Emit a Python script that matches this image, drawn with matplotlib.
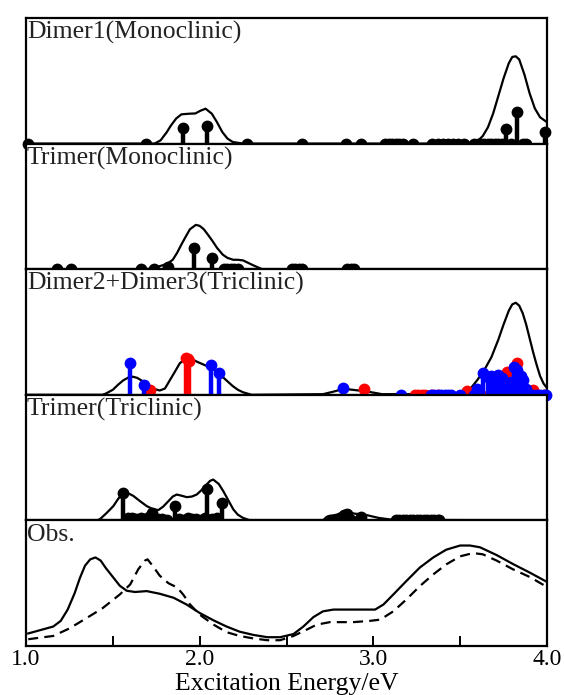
import matplotlib
matplotlib.use("Agg")
import matplotlib.pyplot as plt

plt.rcParams['font.family'] = ['Liberation Serif', 'DejaVu Serif']

# ---------------- data ----------------
titles = ["Dimer1(Monoclinic)", "Trimer(Monoclinic)", "Dimer2+Dimer3(Triclinic)",
          "Trimer(Triclinic)", "Obs."]

# Panel 1: Dimer1 (Monoclinic)
d1_curve_x = [1.00, 1.74, 1.775, 1.81, 1.835, 1.865, 1.895, 1.94, 1.975, 2.005, 2.034,
              2.07, 2.10, 2.13, 2.16, 2.19, 2.25,
              3.56, 3.60, 3.63, 3.66, 3.69, 3.72, 3.75, 3.78, 3.80, 3.82, 3.84,
              3.87, 3.90, 3.93, 3.96, 3.98, 4.00]
d1_curve_y = [0.0, 0.0, 0.026, 0.09, 0.145, 0.20, 0.233, 0.238, 0.240, 0.262, 0.278,
              0.238, 0.17, 0.093, 0.04, 0.013, 0.0,
              0.0, 0.02, 0.06, 0.13, 0.24, 0.38, 0.52, 0.64, 0.69, 0.695, 0.67,
              0.55, 0.40, 0.28, 0.21, 0.19, 0.17]
d1_stem_x = [1.01, 1.69, 1.905, 2.04, 2.27, 2.59, 2.84, 2.93, 3.07, 3.09, 3.11, 3.13,
             3.15, 3.17, 3.23, 3.34, 3.37, 3.40, 3.43, 3.46, 3.49, 3.52, 3.58, 3.60,
             3.62, 3.64, 3.66, 3.68, 3.70, 3.72, 3.74, 3.763, 3.79, 3.83, 3.86,
             3.88, 3.99]
d1_stem_y = [0, 0, 0.124, 0.138, 0, 0, 0, 0, 0, 0, 0, 0,
             0, 0, 0, 0, 0, 0, 0, 0, 0, 0, 0, 0,
             0, 0, 0, 0, 0, 0, 0, 0.12, 0, 0.25, 0,
             0, 0.09]

# Panel 2: Trimer (Monoclinic)
t1_curve_x = [1.00, 1.70, 1.716, 1.76, 1.795, 1.82, 1.845, 1.87, 1.895, 1.92, 1.944,
              1.978, 2.00, 2.024, 2.05, 2.074, 2.10, 2.133, 2.16, 2.193, 2.22, 2.25,
              2.28, 2.31, 2.36, 4.00]
t1_curve_y = [0.0, 0.0, 0.008, 0.02, 0.035, 0.05, 0.075, 0.13, 0.197, 0.26, 0.318,
              0.353, 0.345, 0.318, 0.27, 0.224, 0.17, 0.116, 0.09, 0.075, 0.075, 0.07,
              0.05, 0.03, 0.0, 0.0]
t1_stem_x = [1.18, 1.26, 1.66, 1.735, 1.815, 1.965, 2.07, 2.14, 2.16, 2.18, 2.20,
             2.22, 2.53, 2.55, 2.57, 2.59, 2.85, 2.87, 2.89]
t1_stem_y = [0, 0, 0, 0, 0.02, 0.17, 0.09, 0, 0, 0, 0,
             0, 0, 0, 0, 0, 0, 0, 0]

# Panel 3: Dimer2 + Dimer3 (Triclinic)
d23_curve_x = [1.00, 1.44, 1.46, 1.50, 1.53, 1.56, 1.59, 1.615, 1.64, 1.67, 1.70,
               1.73, 1.77, 1.80, 1.83, 1.86, 1.885, 1.915, 1.945, 1.99, 2.03, 2.07,
               2.11, 2.15, 2.19, 2.22, 2.25, 2.30, 2.71, 2.77, 2.83, 2.91, 2.97,
               3.05, 3.48, 3.52, 3.56, 3.60, 3.64, 3.68, 3.72, 3.75, 3.78, 3.80,
               3.82, 3.84, 3.86, 3.88, 3.90, 3.92, 3.94, 3.96, 3.98, 4.00]
d23_curve_y = [0.0, 0.0, 0.01, 0.04, 0.08, 0.115, 0.138, 0.144, 0.135, 0.11, 0.08,
               0.05, 0.034, 0.05, 0.12, 0.19, 0.25, 0.285, 0.29, 0.26, 0.236, 0.21,
               0.17, 0.12, 0.07, 0.04, 0.02, 0.0, 0.005, 0.025, 0.048, 0.035, 0.025,
               0.005, 0.005, 0.02, 0.05, 0.12, 0.20, 0.30, 0.44, 0.56, 0.67, 0.72,
               0.733, 0.71, 0.65, 0.56, 0.45, 0.34, 0.24, 0.15, 0.09, 0.053]
d2_stem_x = [1.599, 1.681, 2.063, 2.113, 2.825, 3.157, 3.33, 3.35, 3.37, 3.39, 3.41,
             3.43, 3.45, 3.50, 3.58, 3.595, 3.633, 3.66, 3.68, 3.70, 3.72, 3.74, 3.76,
             3.79, 3.81, 3.83, 3.85, 3.86, 3.88, 3.90, 3.92, 3.94, 3.96, 3.98, 3.995]
d2_stem_y = [0.25, 0.08, 0.236, 0.17, 0.053, 0, 0, 0, 0, 0, 0,
             0, 0, 0, 0, 0.05, 0.17, 0.14, 0.15, 0.12, 0.16, 0.13, 0.05,
             0.10, 0.22, 0.20, 0.15, 0.12, 0.05, 0, 0, 0, 0, 0, 0]
d3_stem_x = [1.714, 1.92, 1.93, 1.94, 2.945, 3.24, 3.26, 3.28, 3.30, 3.34, 3.37, 3.53,
             3.54, 3.62, 3.71, 3.77, 3.80, 3.826, 3.87, 3.92, 3.95, 3.98]
d3_stem_y = [0.04, 0.295, 0.285, 0.27, 0.045, 0, 0, 0, 0, 0, 0, 0,
             0.03, 0, 0.08, 0.18, 0.10, 0.25, 0, 0.04, 0, 0]

# Panel 4: Trimer (Triclinic)
t2_curve_x = [1.00, 1.41, 1.426, 1.465, 1.503, 1.53, 1.56, 1.59, 1.618, 1.655, 1.695,
              1.73, 1.762, 1.79, 1.82, 1.845, 1.868, 1.90, 1.926, 1.955, 1.983, 2.01,
              2.04, 2.06, 2.078, 2.11, 2.136, 2.165, 2.194, 2.22, 2.25, 2.29, 2.71,
              2.73, 2.79, 2.84, 2.89, 2.95, 3.03, 3.11, 3.35, 4.00]
t2_curve_y = [0.0, 0.0, 0.01, 0.06, 0.114, 0.17, 0.22, 0.215, 0.195, 0.155, 0.114,
              0.09, 0.082, 0.11, 0.153, 0.19, 0.206, 0.195, 0.185, 0.19, 0.206, 0.24,
              0.286, 0.315, 0.325, 0.29, 0.233, 0.16, 0.087, 0.045, 0.02, 0.0, 0.0,
              0.027, 0.046, 0.076, 0.054, 0.046, 0.02, 0.005, 0.003, 0.0]
t2_stem_x = [1.56, 1.585, 1.61, 1.635, 1.66, 1.685, 1.71, 1.724, 1.76, 1.785, 1.81,
             1.858, 1.88, 1.905, 1.93, 1.955, 1.98, 2.005, 2.03, 2.04, 2.07, 2.10,
             2.127, 2.75, 2.77, 2.79, 2.81, 2.83, 2.85, 2.87, 2.93, 3.13, 3.15,
             3.17, 3.19, 3.21, 3.23, 3.25, 3.27, 3.29, 3.31, 3.33, 3.35, 3.37, 3.38]
t2_stem_y = [0.22, 0.02, 0.02, 0.01, 0.02, 0.01, 0.03, 0.06, 0.01, 0.01, 0.0,
             0.114, 0.01, 0.0, 0.02, 0.01, 0.01, 0.0, 0.02, 0.25, 0.01, 0.02,
             0.14, 0, 0, 0, 0, 0.04, 0.05, 0.0, 0.03, 0, 0,
             0, 0, 0, 0, 0, 0, 0, 0, 0, 0, 0, 0]

# Panel 5: Observed spectra
obs_solid_x = [1.013, 1.157, 1.20, 1.24, 1.28, 1.31, 1.34, 1.37, 1.40, 1.43, 1.46,
               1.50, 1.54, 1.58, 1.627, 1.695, 1.77, 1.85, 1.925, 2.0, 2.08, 2.155,
               2.23, 2.31, 2.39, 2.463, 2.54, 2.597, 2.655, 2.71, 2.77, 2.885, 3.01,
               3.058, 3.115, 3.19, 3.268, 3.345, 3.42, 3.5, 3.556, 3.614, 3.71,
               3.805, 3.90, 4.0]
obs_solid_y = [0.10, 0.155, 0.20, 0.29, 0.42, 0.54, 0.64, 0.69, 0.705, 0.68, 0.62,
               0.55, 0.48, 0.44, 0.43, 0.437, 0.416, 0.384, 0.33, 0.263, 0.204, 0.155,
               0.114, 0.088, 0.07, 0.07, 0.095, 0.155, 0.23, 0.276, 0.29, 0.29, 0.29,
               0.33, 0.41, 0.517, 0.625, 0.705, 0.767, 0.80, 0.80, 0.786, 0.724,
               0.652, 0.585, 0.51]
obs_dash_x = [1.013, 1.157, 1.25, 1.346, 1.44, 1.54, 1.60, 1.646, 1.685, 1.70, 1.73,
              1.77, 1.82, 1.87, 1.905, 1.945, 2.0, 2.08, 2.155, 2.23, 2.31, 2.39,
              2.463, 2.54, 2.616, 2.674, 2.75, 2.885, 2.98, 3.04, 3.115, 3.19, 3.268,
              3.345, 3.42, 3.50, 3.575, 3.63, 3.71, 3.805, 3.90, 4.0]
obs_dash_y = [0.054, 0.08, 0.14, 0.22, 0.30, 0.41, 0.49, 0.61, 0.68, 0.69, 0.637,
              0.56, 0.50, 0.466, 0.41, 0.33, 0.25, 0.17, 0.11, 0.08, 0.06, 0.046,
              0.046, 0.08, 0.13, 0.17, 0.19, 0.19, 0.20, 0.21, 0.276, 0.37, 0.477,
              0.57, 0.65, 0.714, 0.74, 0.73, 0.68, 0.61, 0.55, 0.47]

xticks = [1.0, 1.5, 2.0, 2.5, 3.0, 3.5, 4.0]
xticklabels = ["1.0", "", "2.0", "", "3.0", "", "4.0"]

# ---------------- drawing ----------------
fig = plt.figure(figsize=(5.64, 6.95), dpi=100)
left, right = 26 / 564, 547 / 564
top, bottom = 1 - 18 / 695, 1 - 646 / 695
h = (top - bottom) / 5
axes = []
for i in range(5):
    ax = fig.add_axes([left, top - (i + 1) * h, right - left, h])
    ax.set_xlim(1.0, 4.0)
    ax.set_ylim(0, 1.0)
    for s in ax.spines.values():
        s.set_linewidth(1.6)
    ax.set_yticks([])
    ax.text(0.002, 0.975, titles[i], transform=ax.transAxes, ha='left', va='top',
            fontsize=18.5, color='#222222', zorder=1)
    axes.append(ax)

for ax in axes[:4]:
    ax.set_xticks([])

CW = 1.6
MS = 8.5
SW = 3.2


def stems(ax, xs, ys, color, z=3):
    ax.vlines(xs, 0, ys, colors=color, linewidth=SW, zorder=z, clip_on=False)
    ax.plot(xs, ys, 'o', color=color, markersize=MS, zorder=z + 0.1, clip_on=False,
            markeredgewidth=0)


axes[0].plot(d1_curve_x, d1_curve_y, color='black', lw=CW)
stems(axes[0], d1_stem_x, d1_stem_y, 'black')

axes[1].plot(t1_curve_x, t1_curve_y, color='black', lw=CW)
stems(axes[1], t1_stem_x, t1_stem_y, 'black')

axes[2].plot(d23_curve_x, d23_curve_y, color='black', lw=CW, zorder=2)
stems(axes[2], d3_stem_x, d3_stem_y, '#ff0000', z=3)
stems(axes[2], d2_stem_x, d2_stem_y, '#0000ff', z=4)

axes[3].plot(t2_curve_x, t2_curve_y, color='black', lw=CW)
stems(axes[3], t2_stem_x, t2_stem_y, 'black')

ax5 = axes[4]
ax5.plot(obs_solid_x, obs_solid_y, color='black', lw=CW)
ax5.plot(obs_dash_x, obs_dash_y, color='black', lw=CW, linestyle=(0, (4.5, 2.8)))
ax5.set_xticks(xticks)
ax5.set_xticklabels(xticklabels, fontsize=17)
ax5.tick_params(axis='x', direction='in', length=7, width=1.4, pad=2)
ax5.set_xlabel("Excitation Energy/eV", fontsize=18.5, labelpad=2)

fig.savefig("out.png", dpi=100)
